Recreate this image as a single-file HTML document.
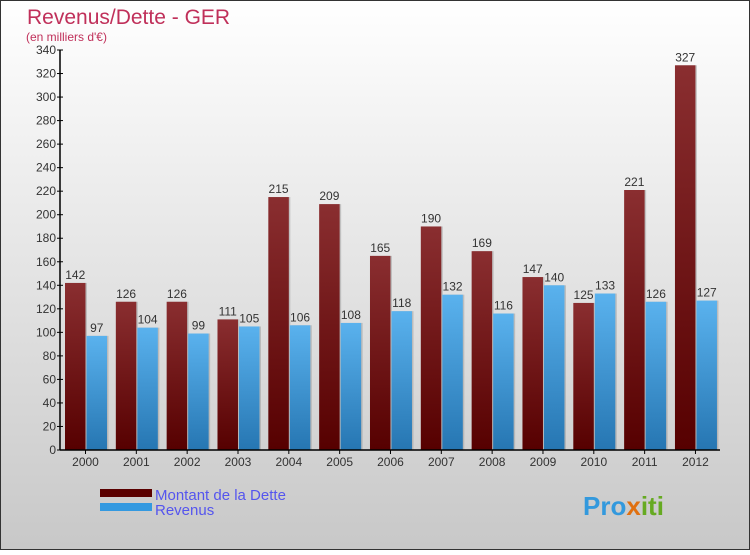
<!DOCTYPE html>
<html><head><meta charset="utf-8"><style>
body{margin:0;width:750px;height:550px;overflow:hidden;font-family:"Liberation Sans",sans-serif}
</style></head><body>
<svg id="c" width="750" height="550" xmlns="http://www.w3.org/2000/svg">
<defs>
<linearGradient id="bg" x1="0" y1="0" x2="0" y2="1"><stop offset="0" stop-color="#ffffff"/><stop offset="1" stop-color="#c8c8c8"/></linearGradient>
<linearGradient id="gd" x1="0" y1="0" x2="0" y2="1"><stop offset="0" stop-color="#8a2e30"/><stop offset="1" stop-color="#560000"/></linearGradient>
<linearGradient id="gr" x1="0" y1="0" x2="0" y2="1"><stop offset="0" stop-color="#5ab2ee"/><stop offset="1" stop-color="#2676b2"/></linearGradient>
</defs>
<rect x="0.5" y="0.5" width="749" height="549" fill="url(#bg)" stroke="#333"/>
<text x="27" y="24" font-size="21" fill="#c0305a">Revenus/Dette - GER</text>
<text x="26" y="41" font-size="12" fill="#c0305a">(en milliers d'€)</text>
<g id="plot"></g>
<rect x="100" y="489" width="52" height="8" fill="#5a0000"/>
<rect x="100" y="503" width="52" height="8" fill="#3399e0"/>
<text x="155" y="500" font-size="15" fill="#5555ee">Montant de la Dette</text>
<text x="155" y="515" font-size="15" fill="#5555ee">Revenus</text>
<text x="583" y="515" font-size="26" font-weight="bold" fill="#3399dd">Pro<tspan fill="#e07010">x</tspan><tspan fill="#66aa22">iti</tspan></text>
</svg>
<script>
const years=["2000","2001","2002","2003","2004","2005","2006","2007","2008","2009","2010","2011","2012"];
const dette=[142,126,126,111,215,209,165,190,169,147,125,221,327];
const revenus=[97,104,99,105,106,108,118,132,116,140,133,126,127];
const yTicks=[0,20,40,60,80,100,120,140,160,180,200,220,240,260,280,300,320,340];
const NS="http://www.w3.org/2000/svg";
const g=document.getElementById('plot');
const y0=450,yMax=340,ph=400,x0=60,step=50.83,bw=20.5;
const y=v=>y0-v/yMax*ph;
function mk(t,a,txt){const e=document.createElementNS(NS,t);for(const k in a)e.setAttribute(k,a[k]);if(txt!==undefined)e.textContent=txt;g.appendChild(e);return e;}
yTicks.forEach(t=>{
 const l=mk('line',{x1:x0-3,x2:x0+3,y1:y(t),y2:y(t),stroke:'#000'});
 
 
 const tx=mk('text',{x:x0-4,y:y(t)+4,'font-size':12,'text-anchor':'end',fill:'#333'},t);
 
 
});
years.forEach((yr,i)=>{
 const gx=65+i*step;
 const s1=mk('rect',{x:gx+1.5,y:y(dette[i]),width:bw,height:y0-y(dette[i]),fill:'#999',opacity:0.5});
 
 
 const b1=mk('rect',{x:gx,y:y(dette[i]),width:bw,height:y0-y(dette[i]),fill:'url(#gd)'});
 
 
 const s2=mk('rect',{x:gx+bw+2.5,y:y(revenus[i]),width:bw,height:y0-y(revenus[i]),fill:'#999',opacity:0.5});
 
 
 const b2=mk('rect',{x:gx+bw+1,y:y(revenus[i]),width:bw,height:y0-y(revenus[i]),fill:'url(#gr)'});
 
 
 const v1=mk('text',{x:gx+bw/2,y:y(dette[i])-4,'font-size':12,'text-anchor':'middle',fill:'#333'},dette[i]);
 
 
 const v2=mk('text',{x:gx+bw*1.5+1,y:y(revenus[i])-4,'font-size':12,'text-anchor':'middle',fill:'#333'},revenus[i]);
 
 
 const cx=gx+bw;
 const tk=mk('line',{x1:cx,x2:cx,y1:y0,y2:y0+4,stroke:'#000'});
 
 
 const xl=mk('text',{x:cx,y:y0+16,'font-size':12,'text-anchor':'middle',fill:'#333'},yr);
 
 
});
const ya=mk('line',{x1:x0,x2:x0,y1:y(340),y2:y0,stroke:'#000','stroke-width':1.5});


const xa=mk('line',{x1:x0,x2:720,y1:y0,y2:y0,stroke:'#000','stroke-width':1.5});


</script>
</body></html>
